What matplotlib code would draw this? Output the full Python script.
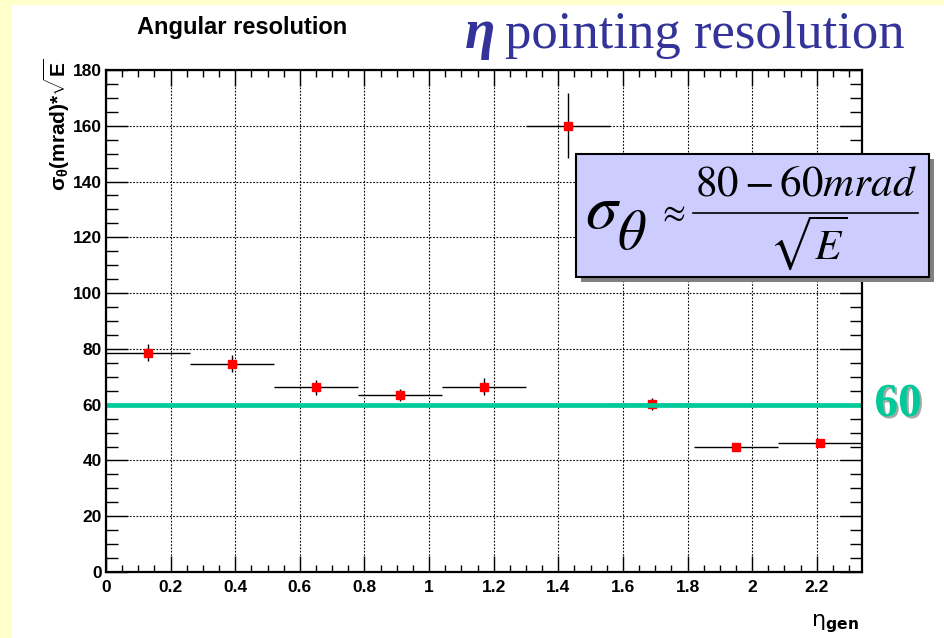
import numpy as np
import matplotlib
matplotlib.use("Agg")
import matplotlib.pyplot as plt
import matplotlib.patheffects as pe
from matplotlib.patches import Rectangle
from matplotlib.lines import Line2D
from matplotlib.ticker import MultipleLocator, FormatStrFormatter

# ---------------------------------------------------------------
# Resolucion angular en bines de eta (histograma de 9 bines)
# ---------------------------------------------------------------
eta_centers = [0.13, 0.39, 0.65, 0.91, 1.17, 1.43, 1.69, 1.95, 2.21]
eta_halfwidth = [0.13] * 9
sigma_sqrtE = [78.6, 74.7, 66.3, 63.4, 66.4, 160.0, 60.3, 44.9, 46.3]
sigma_err = [3.1, 3.0, 2.7, 2.2, 3.0, 11.7, 2.2, 0.8, 0.8]
ref_level = 60

plt.rcParams["mathtext.fontset"] = "custom"
plt.rcParams["mathtext.rm"] = "Liberation Sans:bold"
plt.rcParams["mathtext.it"] = "Liberation Sans:bold"
plt.rcParams["mathtext.bf"] = "Liberation Sans:bold"
plt.rcParams["mathtext.default"] = "it"

W, H = 944, 638
fig = plt.figure(figsize=(W / 100, H / 100), dpi=100, facecolor="#FFFFCC")


def px(x, y):
    # pixel -> coordenadas de figura
    return x / W, 1 - y / H


# fondo blanco de la diapositiva
x0, y0 = px(12, H)
fig.patches.append(Rectangle((x0, y0), 1 - x0, 1 - 5 / H, transform=fig.transFigure,
                             facecolor="white", edgecolor="none", zorder=-5))

ax = fig.add_axes([106 / W, (H - 572) / H, 756 / W, 502 / H])
ax.set_facecolor("white")

ax.errorbar(eta_centers, sigma_sqrtE, xerr=eta_halfwidth, yerr=sigma_err,
            fmt="none", ecolor="black", elinewidth=1.0, capsize=0, zorder=3)
ax.plot(eta_centers, sigma_sqrtE, ls="none", marker="s", ms=6,
        mfc="red", mec="red", zorder=4)
ax.axhline(ref_level, color="#00C99A", lw=3.4, zorder=5)

ax.set_xlim(0, 2.34)
ax.set_ylim(0, 180)
ax.xaxis.set_major_locator(MultipleLocator(0.2))
ax.xaxis.set_minor_locator(MultipleLocator(0.05))
ax.yaxis.set_major_locator(MultipleLocator(20))
ax.yaxis.set_minor_locator(MultipleLocator(5))
ax.xaxis.set_major_formatter(FormatStrFormatter("%g"))
ax.yaxis.set_major_formatter(FormatStrFormatter("%g"))

ax.tick_params(axis="both", which="both", direction="in", top=True, right=True,
               color="black", width=1.0)
ax.tick_params(axis="x", which="major", length=11.5, pad=6)
ax.tick_params(axis="x", which="minor", length=5)
ax.tick_params(axis="y", which="major", length=15.5, pad=3)
ax.tick_params(axis="y", which="minor", length=8.5)
for lab in ax.get_xticklabels() + ax.get_yticklabels():
    lab.set_fontfamily("Liberation Sans")
    lab.set_fontweight("bold")
    lab.set_fontsize(12.5)

ax.grid(True, which="major", color="black", ls=(0, (1.5, 1.5)), lw=0.8)
ax.set_axisbelow(True)
for sp in ax.spines.values():
    sp.set_linewidth(1.6)
    sp.set_zorder(6)

# titulos y etiquetas de ejes
fig.text(*px(242, 34), "Angular resolution", ha="center", va="baseline",
         fontsize=17, fontweight="bold", family="Liberation Sans")
fig.text(*px(57, 58), r"$\sigma_{\theta}$(mrad)*$\sqrt{\mathrm{E}}$", rotation=90,
         ha="center", va="top", fontsize=15, fontweight="bold",
         family="Liberation Sans", math_fontfamily="custom")
fig.text(*px(859, 626), r"$\mathrm{\eta}_{\mathbf{gen}}$", ha="right", va="baseline",
         fontsize=16, math_fontfamily="dejavusans")

blue = "#333399"
fig.text(*px(495, 48), "\u03b7", ha="right", va="baseline", fontsize=40,
         family="Liberation Serif", fontweight="bold", style="italic", color=blue)
fig.text(*px(505, 48), "pointing resolution", ha="left", va="baseline",
         fontsize=38, family="Liberation Serif", color=blue)

# recuadro con la parametrizacion
bx, by = px(576, 277)
bw, bh = (929 - 576) / W, (277 - 154) / H
fig.patches.append(Rectangle((bx + 5 / W, by - 5 / H), bw, bh, transform=fig.transFigure,
                             facecolor="#808080", edgecolor="none", zorder=7))
fig.patches.append(Rectangle((bx, by), bw, bh, transform=fig.transFigure,
                             facecolor="#CCCCFF", edgecolor="black", lw=1.5, zorder=8))
fig.text(*px(603, 210), r"$\sigma$", ha="center", va="center", fontsize=46,
         math_fontfamily="stix", zorder=9)
fig.text(*px(632, 234), r"$\theta$", ha="center", va="center", fontsize=40,
         math_fontfamily="stix", zorder=9)
fig.text(*px(672, 212), r"$\approx$", ha="center", va="center", fontsize=24,
         math_fontfamily="stix", zorder=9)
fig.text(*px(806, 184), r"$80-60mrad$", ha="center", va="center", fontsize=31,
         math_fontfamily="stix", zorder=9)
fig.text(*px(808, 243), r"$\sqrt{E}$", ha="center", va="center", fontsize=31,
         math_fontfamily="stix", zorder=9)
lx0, ly = px(693, 213)
lx1, _ = px(918, 213)
fig.lines.append(Line2D([lx0, lx1], [ly, ly], transform=fig.transFigure,
                        color="black", lw=1.2, zorder=9))

# etiqueta del nivel de referencia (con sombra)
fig.text(*px(898, 405), "60", ha="center", va="center", fontsize=34,
         family="Liberation Serif", fontweight="bold", color="#00C99A",
         path_effects=[pe.SimplePatchShadow(offset=(1.5, -1.5), shadow_rgbFace="#A8A8A8",
                                            alpha=1.0), pe.Normal()])

fig.savefig("out.png", dpi=100, facecolor=fig.get_facecolor())
